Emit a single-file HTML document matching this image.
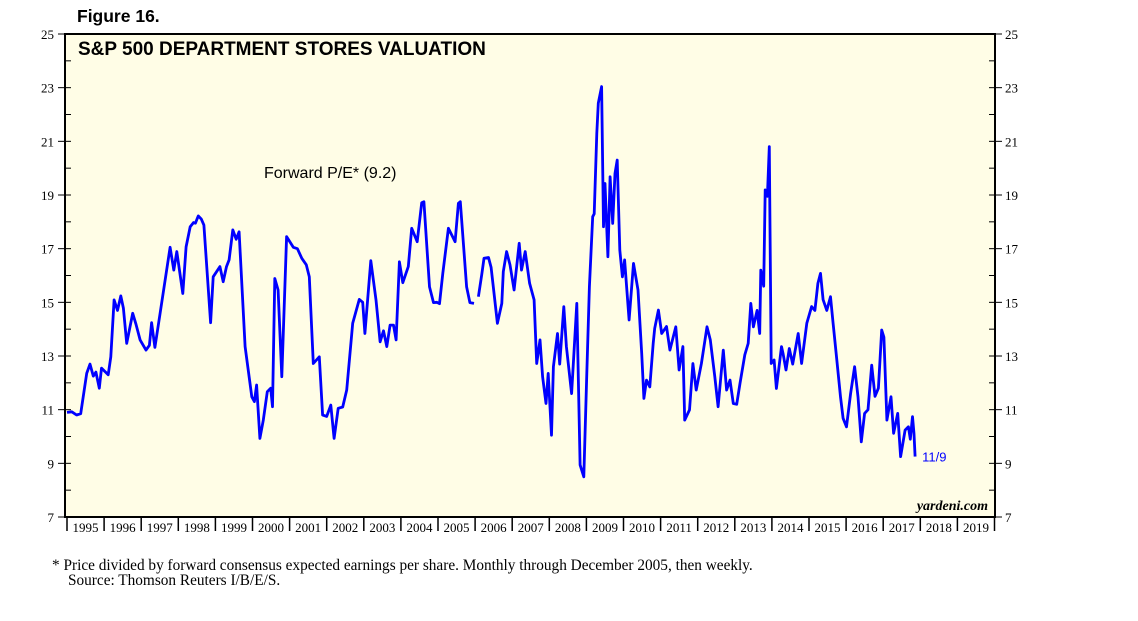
<!DOCTYPE html>
<html><head><meta charset="utf-8"><style>
body{margin:0;background:#fff;width:1138px;height:621px;overflow:hidden}
svg{display:block}
</style></head><body>
<svg id="chart" width="1138" height="621" xmlns="http://www.w3.org/2000/svg">
<text x="77" y="22" font-family="Liberation Sans, sans-serif" font-weight="bold" font-size="17.5">Figure 16.</text>
<rect x="65" y="34" width="930" height="483" fill="#fffde6" stroke="#000" stroke-width="2"/>
<text x="78" y="55" font-family="Liberation Sans, sans-serif" font-weight="bold" font-size="19">S&amp;P 500 DEPARTMENT STORES VALUATION</text>
<text x="264" y="178" font-family="Liberation Sans, sans-serif" font-size="16">Forward P/E* (9.2)</text>
<text x="988" y="510" text-anchor="end" font-family="Liberation Serif, serif" font-style="italic" font-weight="bold" font-size="14">yardeni.com</text>
<g id="axes"></g>
<polyline id="line" fill="none" stroke="#0000ff" stroke-width="2.8" stroke-linejoin="round"/>
<text id="endlbl" font-family="Liberation Sans, sans-serif" font-size="13" fill="#0000ff">11/9</text>
<text x="52" y="570" font-family="Liberation Serif, serif" font-size="15.3">*   Price divided by forward consensus expected earnings per share. Monthly through December 2005, then weekly.</text>
<text x="68" y="585" font-family="Liberation Serif, serif" font-size="15.3">Source: Thomson Reuters I/B/E/S.</text>
</svg>
<script>
const years=[1995,1996,1997,1998,1999,2000,2001,2002,2003,2004,2005,2006,2007,2008,2009,2010,2011,2012,2013,2014,2015,2016,2017,2018,2019];
const yTicks=[7,9,11,13,15,17,19,21,23,25];
const dates=[1995.0,1995.13,1995.26,1995.37,1995.53,1995.62,1995.71,1995.78,1995.87,1995.93,1996.11,1996.18,1996.27,1996.36,1996.45,1996.52,1996.61,1996.77,1996.86,1996.97,1997.13,1997.22,1997.28,1997.37,1997.51,1997.78,1997.88,1997.96,1998.12,1998.21,1998.32,1998.41,1998.46,1998.54,1998.62,1998.69,1998.87,1998.94,1999.12,1999.21,1999.3,1999.37,1999.47,1999.56,1999.64,1999.8,1999.98,2000.05,2000.11,2000.2,2000.29,2000.4,2000.49,2000.54,2000.6,2000.69,2000.79,2000.92,2001.1,2001.21,2001.33,2001.45,2001.53,2001.64,2001.8,2001.89,2002.0,2002.11,2002.2,2002.31,2002.43,2002.54,2002.7,2002.88,2002.97,2003.03,2003.19,2003.33,2003.44,2003.53,2003.62,2003.71,2003.8,2003.87,2003.96,2004.05,2004.2,2004.29,2004.44,2004.56,2004.62,2004.77,2004.88,2004.97,2005.04,2005.13,2005.28,2005.46,2005.55,2005.6,2005.77,2005.86,2005.97,
2006.09,2006.18,2006.24,2006.36,2006.43,2006.49,2006.6,2006.72,2006.76,2006.85,2006.94,2007.05,2007.19,2007.25,2007.35,2007.47,2007.59,2007.66,2007.75,2007.82,2007.91,2007.97,2008.06,2008.11,2008.22,2008.28,2008.39,2008.46,2008.6,2008.74,2008.83,2008.93,2009.01,2009.08,2009.17,2009.21,2009.28,2009.32,2009.41,2009.46,2009.5,2009.58,2009.64,2009.71,2009.77,2009.83,2009.9,2009.97,2010.03,2010.15,2010.27,2010.39,2010.49,2010.55,2010.62,2010.71,2010.8,2010.84,2010.94,2011.03,2011.16,2011.25,2011.41,2011.5,2011.6,2011.65,2011.78,2011.87,2011.96,2012.1,2012.25,2012.34,2012.46,2012.55,2012.69,2012.78,2012.87,2012.96,2013.05,2013.14,2013.27,2013.36,2013.43,2013.5,2013.6,2013.67,2013.7,2013.78,2013.82,2013.88,2013.93,2013.98,2014.06,2014.12,2014.26,2014.3,2014.38,2014.47,2014.56,2014.71,2014.8,2014.94,2015.07,2015.16,2015.24,2015.31,2015.38,2015.48,2015.58,2015.65,2015.74,2015.85,2015.92,2016.01,2016.12,2016.23,2016.32,2016.41,2016.5,2016.59,2016.69,2016.78,2016.87,2016.96,2017.02,2017.1,2017.21,2017.28,2017.39,2017.47,2017.59,2017.68,2017.73,2017.79,2017.83,2017.86];
const values=[10.9,10.92,10.8,10.85,12.35,12.7,12.25,12.4,11.8,12.55,12.3,12.97,15.09,14.7,15.24,14.78,13.47,14.59,14.18,13.6,13.22,13.4,14.24,13.32,14.59,17.05,16.2,16.89,15.33,17.07,17.82,17.97,17.95,18.22,18.1,17.88,14.24,15.95,16.33,15.77,16.33,16.58,17.7,17.35,17.63,13.35,11.48,11.3,11.92,9.93,10.61,11.67,11.8,11.11,15.89,15.46,12.23,17.45,17.05,17.0,16.64,16.4,15.95,12.72,12.97,10.8,10.75,11.17,9.93,11.05,11.1,11.73,14.22,15.11,15.0,13.84,16.55,15.09,13.53,13.94,13.35,14.15,14.15,13.6,16.51,15.73,16.33,17.76,17.26,18.71,18.75,15.58,14.99,15.0,14.95,16.08,17.76,17.26,18.69,18.75,15.58,14.99,14.96,
15.21,16.05,16.64,16.67,16.3,15.58,14.22,14.96,16.14,16.89,16.4,15.46,17.2,16.2,16.89,15.71,15.09,12.72,13.6,12.23,11.23,12.35,10.05,12.6,13.84,12.7,14.84,13.35,11.6,14.96,8.94,8.5,12.35,15.58,18.19,18.3,21.3,22.42,23.04,17.82,19.43,16.7,19.68,17.94,19.8,20.3,16.95,15.95,16.58,14.34,16.45,15.46,13.1,11.42,12.1,11.85,13.47,14.03,14.71,13.84,14.1,13.22,14.09,12.48,13.35,10.61,10.99,12.72,11.73,12.72,14.09,13.6,12.23,11.11,13.22,11.73,12.1,11.23,11.2,11.98,13.04,13.47,14.96,14.09,14.7,13.84,16.2,15.6,19.19,18.95,20.8,12.72,12.85,11.79,13.35,13.1,12.48,13.28,12.7,13.84,12.72,14.22,14.84,14.7,15.71,16.08,15.1,14.7,15.21,14.22,12.97,11.48,10.68,10.36,11.6,12.6,11.48,9.8,10.86,11.0,12.66,11.5,11.8,13.97,13.7,10.61,11.48,10.12,10.86,9.25,10.24,10.36,9.9,10.74,10.1,9.25];
const X0=67,YW=37.1,Y0=34,H=483,VMIN=7,VMAX=25;
const xs=d=>X0+(d-1995)*YW;
const ys=v=>Y0+(VMAX-v)/(VMAX-VMIN)*H;
const NS='http://www.w3.org/2000/svg';
const ax=document.getElementById('axes');
function mk(tag,attrs){const e=document.createElementNS(NS,tag);for(const k in attrs)e.setAttribute(k,attrs[k]);ax.appendChild(e);return e;}
for(let v=VMIN;v<=VMAX;v++){
  const y=ys(v);
  const t1=mk('line',{x1:65,x2:71,y1:y,y2:y,stroke:'#000','stroke-width':1});
  
  
  const t2=mk('line',{x1:989,x2:995,y1:y,y2:y,stroke:'#000','stroke-width':1});
  
  
}
yTicks.forEach(v=>{
  const y=ys(v);
  mk('line',{x1:58,x2:65,y1:y,y2:y,stroke:'#000','stroke-width':1});
  mk('line',{x1:995,x2:1002,y1:y,y2:y,stroke:'#000','stroke-width':1});
  const l=mk('text',{x:54,y:y+5,'text-anchor':'end','font-family':'Liberation Serif, serif','font-size':13});
  l.textContent=v;
  
  
  const r=mk('text',{x:1005,y:y+5,'font-family':'Liberation Serif, serif','font-size':13});
  r.textContent=v;
  
  
});
years.forEach(yr=>{
  const x=xs(yr);
  mk('line',{x1:x,x2:x,y1:517,y2:531,stroke:'#000','stroke-width':1.5});
  const t=mk('text',{x:x+YW/2,y:532,'text-anchor':'middle','font-family':'Liberation Serif, serif','font-size':13});
  t.textContent=yr;
  
  
});
mk('line',{x1:xs(2020),x2:xs(2020),y1:517,y2:531,stroke:'#000','stroke-width':1.5});
const seg1=[],seg2=[];
dates.forEach((d,i)=>{(d<2006?seg1:seg2).push(xs(d).toFixed(1)+','+ys(values[i]).toFixed(1));});
document.getElementById('line').setAttribute('points',seg1.join(' '));
const l2=document.createElementNS(NS,'polyline');
l2.setAttribute('points',seg2.join(' '));
l2.setAttribute('fill','none');l2.setAttribute('stroke','#0000ff');l2.setAttribute('stroke-width','2.8');l2.setAttribute('stroke-linejoin','round');


document.getElementById('chart').appendChild(l2);
const el=document.getElementById('endlbl');
el.setAttribute('x',xs(dates[dates.length-1])+7);
el.setAttribute('y',ys(values[values.length-1])+5);
</script>
</body></html>
